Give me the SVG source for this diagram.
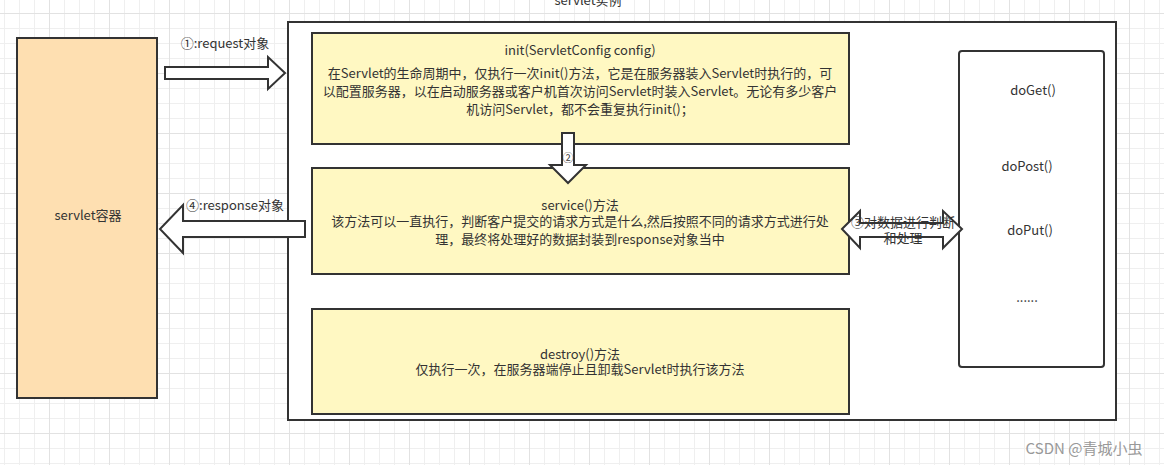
<svg xmlns="http://www.w3.org/2000/svg" width="1164" height="465" viewBox="0 0 1164 465">
<defs>
<pattern id="gminor" patternUnits="userSpaceOnUse" x="4" y="13" width="15" height="15">
<path d="M0.5 0V15M0 0.5H15" fill="none" stroke="#efefef" stroke-width="1"/>
</pattern>
<pattern id="gmajor" patternUnits="userSpaceOnUse" x="49" y="13" width="60" height="60">
<path d="M0.5 0V60M0 0.5H60" fill="none" stroke="#e2e2e2" stroke-width="1"/>
</pattern>
<style>
text{font-family:"Microsoft YaHei","Noto Sans CJK SC","Noto Sans",sans-serif;font-size:13px;fill:#333;text-anchor:middle}
.box{stroke:#333;stroke-width:2}
.yellow{fill:#fff8c2}
.arrow{fill:#fff;stroke:#333;stroke-width:2;stroke-linejoin:miter}
</style>
</defs>
<rect width="1164" height="465" fill="#fff"/>
<rect width="1164" height="465" fill="url(#gminor)"/>
<rect width="1164" height="465" fill="url(#gmajor)"/>

<g id="servlet-container">
<rect class="box" x="17" y="38" width="140" height="360" fill="#fedfb1"/>
<text x="88" y="220">servlet容器</text>
</g>

<g id="servlet-instance">
<rect class="box" x="288" y="22" width="828" height="398" fill="#fff"/>
<text x="588" y="5">servlet实例</text>
</g>

<g id="init">
<rect class="box yellow" x="312" y="33" width="537" height="111"/>
<text x="580" y="55">init(ServletConfig config)</text>
<text x="580" y="78">在Servlet的生命周期中，仅执行一次init()方法，它是在服务器装入Servlet时执行的，可</text>
<text x="580" y="96">以配置服务器，以在启动服务器或客户机首次访问Servlet时装入Servlet。无论有多少客户</text>
<text x="580" y="114">机访问Servlet，都不会重复执行init()；</text>
</g>

<g id="service">
<rect class="box yellow" x="312" y="168" width="537" height="106"/>
<text x="580" y="210">service()方法</text>
<text x="580" y="226">该方法可以一直执行，判断客户提交的请求方式是什么,然后按照不同的请求方式进行处</text>
<text x="580" y="244">理，最终将处理好的数据封装到response对象当中</text>
</g>

<g id="destroy">
<rect class="box yellow" x="312" y="309" width="537" height="105"/>
<text x="580" y="359">destroy()方法</text>
<text x="580" y="374">仅执行一次，在服务器端停止且卸载Servlet时执行该方法</text>
</g>

<g id="methods">
<rect class="box" x="959" y="51" width="145" height="316" rx="3" fill="#fff"/>
<text x="1033" y="95">doGet()</text>
<text x="1027" y="171">doPost()</text>
<text x="1030" y="235">doPut()</text>
<text x="1027" y="302">......</text>
</g>

<g id="connectors">
<path class="arrow" d="M165 67H268V57L285 73L268 89V79H165Z"/>
<text x="225" y="48">①:request对象</text>
<path class="arrow" d="M305 221H183V205L160 229L183 253V237H305Z"/>
<text x="235" y="210">④:response对象</text>
<path class="arrow" d="M562 133H574V165H586L568 183L550 165H562Z"/>
<text x="568" y="162" style="font-size:11px">②</text>
<path class="arrow" d="M842 229L860 211V223H943V211L962 229L943 248V237H860V248Z"/>
<text x="903" y="227">③对数据进行判断</text>
<text x="903" y="243">和处理</text>
</g>

<text x="1084" y="454" style="font-size:15px;fill:#999">CSDN @青城小虫</text>
</svg>
